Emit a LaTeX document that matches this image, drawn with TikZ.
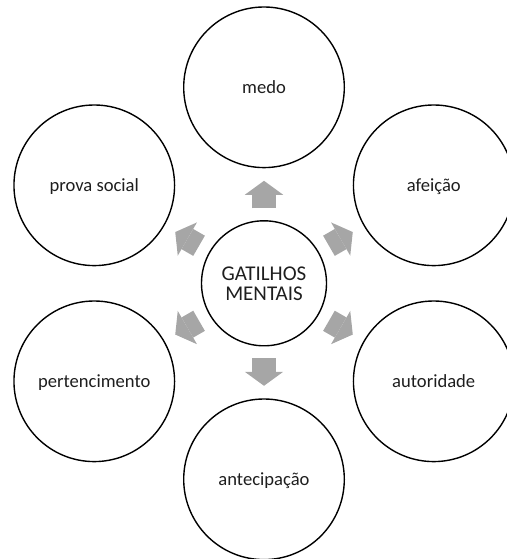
\documentclass[tikz,border=0pt]{standalone}
\usepackage{fontspec}
\setmainfont{Carlito}
\usetikzlibrary{arrows.meta,calc}
\definecolor{arrowgray}{RGB}{166,166,166}
\definecolor{textgray}{RGB}{30,30,30}

\begin{document}
\begin{tikzpicture}[x=1pt,y=1pt,
  trigger/.style={circle, draw=black, line width=1.4pt, minimum size=160.6pt,
    inner sep=0pt, outer sep=0pt, text=textgray,
    font=\fontsize{18.6}{20}\selectfont, text height=14pt, text depth=1.6pt},
  hub/.style={circle, draw=black, line width=1.4pt, minimum size=125pt,
    inner sep=0pt, outer sep=0pt, text=textgray,
    font=\fontsize{21}{20}\selectfont, align=center},
  push/.style={draw=arrowgray, line width=23.3pt,
    -{Triangle[length=14pt,width=38.4pt,line width=0pt]},
    shorten <=12.5pt, shorten >=13.2pt}]
\useasboundingbox (0,0) rectangle (506,559);

% central hub
\node[hub] (hub) at (264,275.7) {GATILHOS\\MENTAIS};

% the six triggers around it
\node[trigger] (medo)   at ($(hub)+(90:196)$)  {medo};
\node[trigger] (afeic)  at ($(hub)+(30:196)$)  {afeição};
\node[trigger] (autor)  at ($(hub)+(-30:196)$) {autoridade};
\node[trigger] (antec)  at ($(hub)+(-90:196)$) {antecipação};
\node[trigger] (perten) at ($(hub)+(210:196)$) {pertencimento};
\node[trigger] (prova)  at ($(hub)+(150:196)$) {prova social};

% block arrows from the hub outwards
\foreach \t in {medo,afeic,autor,antec,perten,prova}
  \draw[push] (hub) -- (\t);
\end{tikzpicture}
\end{document}
